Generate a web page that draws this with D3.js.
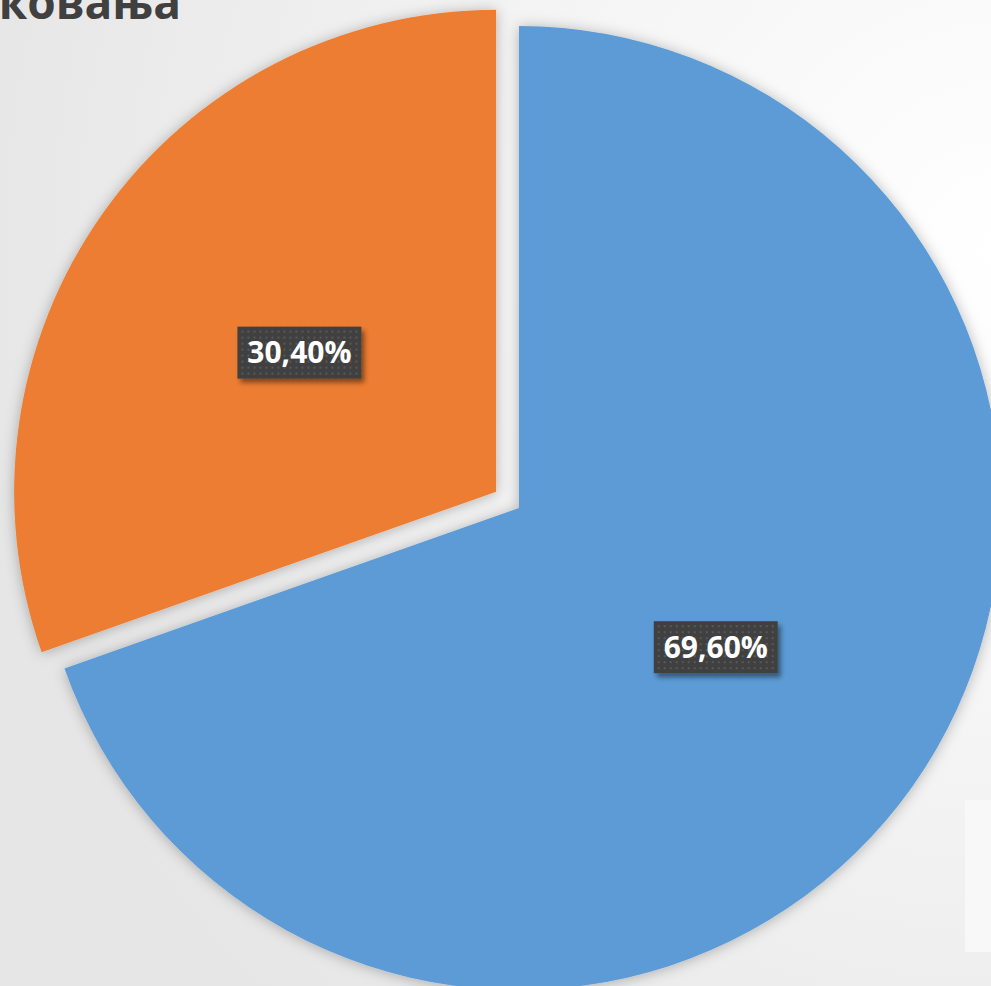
<!DOCTYPE html>
<html>
<head>
<meta charset="utf-8">
<script src="https://cdn.jsdelivr.net/npm/d3@7"></script>
<style>
  html, body { margin: 0; padding: 0; overflow: hidden; }
  svg { display: block; }
</style>
</head>
<body>
<script>
// Data
const categories = ["Категорија 1", "Категорија 2"];
const values = [69.6, 30.4];
const valueLabels = ["69,60%", "30,40%"];
const colors = ["#5B9BD5", "#ED7D31"];
const explode = [0, 28];
const titleText = "ковања";

const width = 991, height = 986;
const cx = 519, cy = 508, radius = 482;

const svg = d3.select("body")
    .append("svg")
    .attr("width", width)
    .attr("height", height);

const defs = svg.append("defs");

// Background radial gradient (light at upper right)
const bg = defs.append("radialGradient")
    .attr("id", "bg")
    .attr("gradientUnits", "userSpaceOnUse")
    .attr("cx", 1000).attr("cy", 250).attr("r", 1050);
bg.append("stop").attr("offset", "0%").attr("stop-color", "#ffffff");
bg.append("stop").attr("offset", "45%").attr("stop-color", "#f5f5f5");
bg.append("stop").attr("offset", "100%").attr("stop-color", "#e6e6e6");

// Soft shadow for slices
const sliceShadow = defs.append("filter")
    .attr("id", "sliceShadow")
    .attr("x", "-10%").attr("y", "-10%")
    .attr("width", "120%").attr("height", "120%");
sliceShadow.append("feDropShadow")
    .attr("dx", 0).attr("dy", 1)
    .attr("stdDeviation", 7)
    .attr("flood-color", "#000")
    .attr("flood-opacity", 0.28);

// Shadow for label boxes
const labelShadow = defs.append("filter")
    .attr("id", "labelShadow")
    .attr("x", "-20%").attr("y", "-30%")
    .attr("width", "150%").attr("height", "170%");
labelShadow.append("feDropShadow")
    .attr("dx", 3).attr("dy", 4)
    .attr("stdDeviation", 2.5)
    .attr("flood-color", "#000")
    .attr("flood-opacity", 0.45);

// Dotted pattern for label boxes
const dots = defs.append("pattern")
    .attr("id", "dots")
    .attr("patternUnits", "userSpaceOnUse")
    .attr("width", 6).attr("height", 6);
dots.append("rect").attr("width", 6).attr("height", 6).attr("fill", "#404040");
dots.append("rect").attr("x", 2).attr("y", 2).attr("width", 2).attr("height", 2).attr("fill", "#585858");

svg.append("rect")
    .attr("width", width)
    .attr("height", height)
    .attr("fill", "url(#bg)");

// Legend box, mostly outside the visible area
svg.append("rect")
    .attr("x", 965).attr("y", 800)
    .attr("width", 60).attr("height", 152)
    .attr("fill", "#f8f8f8");

// Title (cut at the top-left corner, as in the reference)
svg.append("text")
    .attr("x", 181)
    .attr("y", 19)
    .attr("text-anchor", "end")
    .attr("font-family", "'Open Sans', 'DejaVu Sans', sans-serif")
    .attr("font-weight", "bold")
    .attr("font-size", 46)
    .attr("fill", "#404040")
    .text(titleText);

// Pie
const pie = d3.pie().sort(null).startAngle(0).endAngle(2 * Math.PI);
const arcs = pie(values);
const arc = d3.arc().innerRadius(0).outerRadius(radius);

function offset(d, i) {
    const mid = (d.startAngle + d.endAngle) / 2;
    return [Math.sin(mid) * explode[i], -Math.cos(mid) * explode[i]];
}

const g = svg.append("g").attr("transform", `translate(${cx},${cy})`);

g.selectAll(".slice")
    .data(arcs)
    .enter()
    .append("path")
    .attr("class", "slice")
    .attr("d", arc)
    .attr("fill", (d, i) => colors[i])
    .attr("filter", "url(#sliceShadow)")
    .attr("transform", (d, i) => `translate(${offset(d, i)})`);

// Data labels
const labelArc = d3.arc().innerRadius(radius / 2).outerRadius(radius / 2);

const labels = g.selectAll(".label")
    .data(arcs)
    .enter()
    .append("g")
    .attr("class", "label")
    .attr("transform", (d, i) => {
        const [ox, oy] = offset(d, i);
        const [lx, ly] = labelArc.centroid(d);
        return `translate(${lx + ox},${ly + oy})`;
    });

labels.append("rect")
    .attr("x", -62).attr("y", -26)
    .attr("width", 124).attr("height", 52)
    .attr("fill", "url(#dots)")
    .attr("filter", "url(#labelShadow)");

labels.append("text")
    .attr("text-anchor", "middle")
    .attr("dy", "0.36em")
    .attr("font-family", "'Open Sans', 'DejaVu Sans', sans-serif")
    .attr("font-weight", "bold")
    .attr("font-size", 30)
    .attr("fill", "#ffffff")
    .text((d, i) => valueLabels[i]);
</script>
</body>
</html>
